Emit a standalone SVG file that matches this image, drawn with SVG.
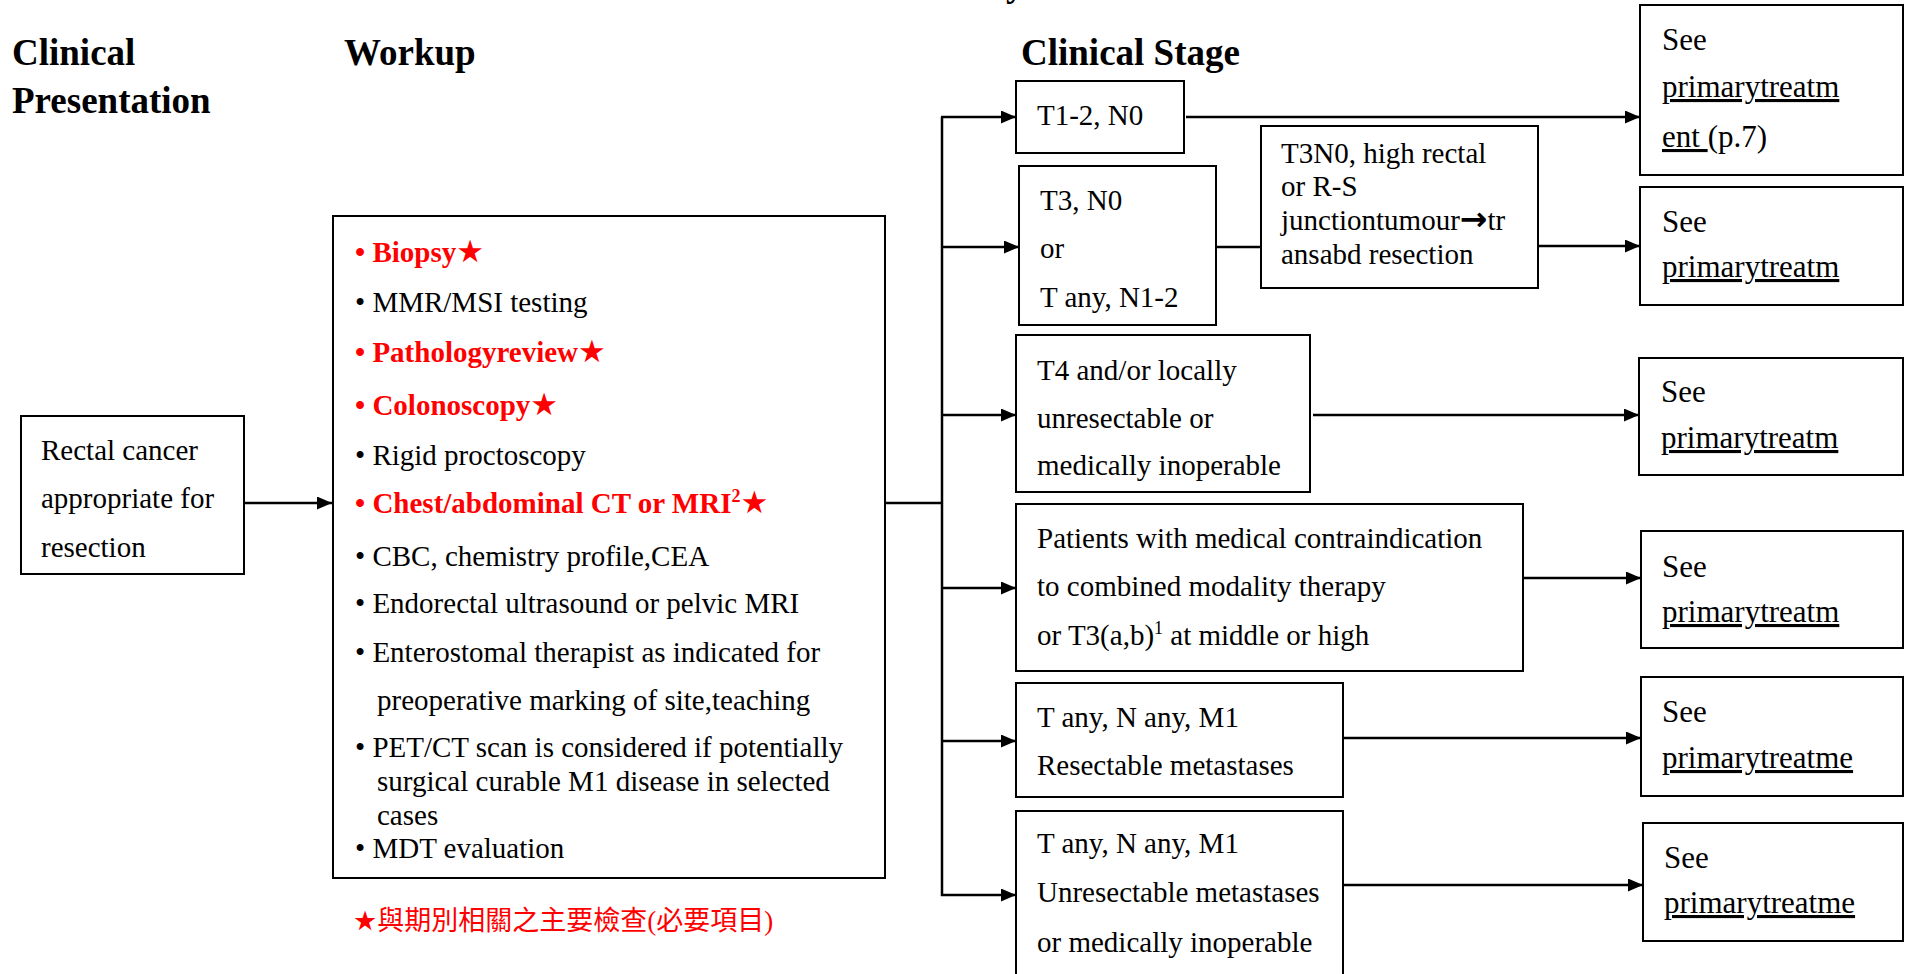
<svg xmlns="http://www.w3.org/2000/svg" width="1906" height="974" viewBox="0 0 1906 974">
<style>
.box{fill:#fff;stroke:#000;stroke-width:2}
.t{font-family:'Liberation Serif','Times New Roman',serif;font-size:29px;fill:#000}
.h{font-family:'Liberation Serif','Times New Roman',serif;font-size:37px;font-weight:bold;fill:#000}
.r{fill:#f00;font-weight:bold}
.see{font-family:'Liberation Serif','Times New Roman',serif;font-size:31px;fill:#000}
.u{text-decoration:underline}
.star{font-family:'DejaVu Sans',sans-serif}
.wstar{font-family:'DejaVu Sans',sans-serif;font-size:31px}
.arr{font-family:'DejaVu Sans',sans-serif;font-weight:bold;font-size:33px}
.sup{font-size:18px}
.con{stroke:#000;stroke-width:2.5;fill:none}
.cjk{font-family:'Noto Sans CJK TC','Noto Sans CJK SC',sans-serif;font-size:27px;fill:#f00}
.par{font-family:'Liberation Serif','Times New Roman',serif}
</style>
<defs>
<marker id="ah" markerUnits="userSpaceOnUse" markerWidth="15" markerHeight="13" refX="15" refY="6.5" orient="auto">
<path d="M0,0 L15,6.5 L0,13 z" fill="#000"/>
</marker>
</defs>
<rect width="1906" height="974" fill="#fff"/>

<g id="headers">
<text class="h" x="1006" y="-4">y</text>
<text class="h" x="12" y="65">Clinical</text>
<text class="h" x="12" y="113">Presentation</text>
<text class="h" x="344" y="65">Workup</text>
<text class="h" x="1021" y="65">Clinical Stage</text>
</g>

<g id="connectors">
<line class="con" x1="244" y1="503" x2="332" y2="503" marker-end="url(#ah)"/>
<line class="con" x1="885" y1="503" x2="942" y2="503"/>
<line class="con" x1="942" y1="117" x2="942" y2="896"/>
<line class="con" x1="941" y1="117" x2="1016" y2="117" marker-end="url(#ah)"/>
<line class="con" x1="941" y1="247" x2="1019" y2="247" marker-end="url(#ah)"/>
<line class="con" x1="941" y1="415" x2="1016" y2="415" marker-end="url(#ah)"/>
<line class="con" x1="941" y1="588" x2="1016" y2="588" marker-end="url(#ah)"/>
<line class="con" x1="941" y1="741" x2="1016" y2="741" marker-end="url(#ah)"/>
<line class="con" x1="941" y1="895" x2="1016" y2="895" marker-end="url(#ah)"/>
<line class="con" x1="1186" y1="117" x2="1640" y2="117" marker-end="url(#ah)"/>
<line class="con" x1="1216" y1="247" x2="1261" y2="247"/>
<line class="con" x1="1538" y1="246" x2="1640" y2="246" marker-end="url(#ah)"/>
<line class="con" x1="1313" y1="415" x2="1639" y2="415" marker-end="url(#ah)"/>
<line class="con" x1="1523" y1="578" x2="1641" y2="578" marker-end="url(#ah)"/>
<line class="con" x1="1343" y1="738" x2="1641" y2="738" marker-end="url(#ah)"/>
<line class="con" x1="1343" y1="885" x2="1643" y2="885" marker-end="url(#ah)"/>
</g>

<g id="presentation">
<rect class="box" x="21" y="416" width="223" height="158"/>
<text class="t" x="41" y="460">Rectal cancer</text>
<text class="t" x="41" y="508">appropriate for</text>
<text class="t" x="41" y="557">resection</text>
</g>

<g id="workup">
<rect class="box" x="333" y="216" width="552" height="662"/>
<text class="t r" x="355" y="262">• Biopsy<tspan class="wstar">★</tspan></text>
<text class="t" x="355" y="312">• MMR/MSI testing</text>
<text class="t r" x="355" y="362">• Pathologyreview<tspan class="wstar">★</tspan></text>
<text class="t r" x="355" y="415">• Colonoscopy<tspan class="wstar">★</tspan></text>
<text class="t" x="355" y="465">• Rigid proctoscopy</text>
<text class="t r" x="355" y="513">• Chest/abdominal CT or MRI<tspan class="sup" dy="-11">2</tspan><tspan class="wstar" dy="11">★</tspan></text>
<text class="t" x="355" y="566">• CBC, chemistry profile,CEA</text>
<text class="t" x="355" y="613">• Endorectal ultrasound or pelvic MRI</text>
<text class="t" x="355" y="662">• Enterostomal therapist as indicated for</text>
<text class="t" x="377" y="710">preoperative marking of site,teaching</text>
<text class="t" x="355" y="757">• PET/CT scan is considered if potentially</text>
<text class="t" x="377" y="791">surgical curable M1 disease in selected</text>
<text class="t" x="377" y="825">cases</text>
<text class="t" x="355" y="858">• MDT evaluation</text>
</g>

<g id="legend">
<text class="cjk" x="353" y="930"><tspan class="star">★</tspan>與期別相關之主要檢查<tspan class="par">(</tspan>必要項目<tspan class="par">)</tspan></text>
</g>

<g id="stage-t12n0">
<rect class="box" x="1016" y="81" width="168" height="72"/>
<text class="t" x="1037" y="125">T1-2, N0</text>
</g>

<g id="stage-t3n0">
<rect class="box" x="1019" y="166" width="197" height="159"/>
<text class="t" x="1040" y="210">T3, N0</text>
<text class="t" x="1040" y="258">or</text>
<text class="t" x="1040" y="307">T any, N1-2</text>
</g>

<g id="t3n0-high">
<rect class="box" x="1261" y="126" width="277" height="162"/>
<text class="t" x="1281" y="163">T3N0, high rectal</text>
<text class="t" x="1281" y="196">or R-S</text>
<text class="t" x="1281" y="230">junctiontumour<tspan class="arr">→</tspan>tr</text>
<text class="t" x="1281" y="264">ansabd resection</text>
</g>

<g id="stage-t4">
<rect class="box" x="1016" y="335" width="294" height="157"/>
<text class="t" x="1037" y="380">T4 and/or locally</text>
<text class="t" x="1037" y="428">unresectable or</text>
<text class="t" x="1037" y="475">medically inoperable</text>
</g>

<g id="stage-contra">
<rect class="box" x="1016" y="504" width="507" height="167"/>
<text class="t" x="1037" y="548">Patients with medical contraindication</text>
<text class="t" x="1037" y="596">to combined modality therapy</text>
<text class="t" x="1037" y="645">or T3(a,b)<tspan class="sup" dy="-11">1</tspan><tspan dy="11"> at middle or high</tspan></text>
</g>

<g id="stage-m1-res">
<rect class="box" x="1016" y="683" width="327" height="114"/>
<text class="t" x="1037" y="727">T any, N any, M1</text>
<text class="t" x="1037" y="775">Resectable metastases</text>
</g>

<g id="stage-m1-unres">
<rect class="box" x="1016" y="811" width="327" height="190"/>
<text class="t" x="1037" y="853">T any, N any, M1</text>
<text class="t" x="1037" y="902">Unresectable metastases</text>
<text class="t" x="1037" y="952">or medically inoperable</text>
</g>

<g id="see1">
<rect class="box" x="1640" y="5" width="263" height="170"/>
<text class="see" x="1662" y="50">See</text>
<text class="see u" x="1662" y="97">primarytreatm</text>
<text class="see" x="1662" y="147"><tspan class="u">ent </tspan>(p.7)</text>
</g>
<g id="see2">
<rect class="box" x="1640" y="187" width="263" height="118"/>
<text class="see" x="1662" y="232">See</text>
<text class="see u" x="1662" y="277">primarytreatm</text>
</g>
<g id="see3">
<rect class="box" x="1639" y="358" width="264" height="117"/>
<text class="see" x="1661" y="402">See</text>
<text class="see u" x="1661" y="448">primarytreatm</text>
</g>
<g id="see4">
<rect class="box" x="1641" y="531" width="262" height="117"/>
<text class="see" x="1662" y="577">See</text>
<text class="see u" x="1662" y="622">primarytreatm</text>
</g>
<g id="see5">
<rect class="box" x="1641" y="677" width="262" height="119"/>
<text class="see" x="1662" y="722">See</text>
<text class="see u" x="1662" y="768">primarytreatme</text>
</g>
<g id="see6">
<rect class="box" x="1643" y="823" width="260" height="118"/>
<text class="see" x="1664" y="868">See</text>
<text class="see u" x="1664" y="913">primarytreatme</text>
</g>
</svg>
